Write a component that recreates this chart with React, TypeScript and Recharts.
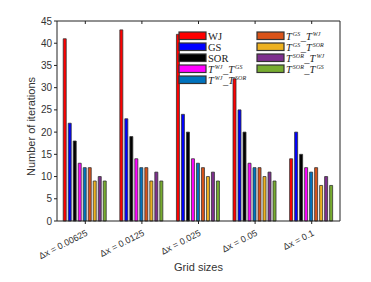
import React from "react";
import { BarChart, Bar, XAxis, YAxis } from "recharts";

const categories = ["Δx = 0.00625", "Δx = 0.0125", "Δx = 0.025", "Δx = 0.05", "Δx = 0.1"];
const wj = [41, 43, 42, 32, 14];
const gs = [22, 23, 24, 25, 20];
const sor = [18, 19, 20, 20, 15];
const tWjGs = [13, 14, 14, 13, 12];
const tWjSor = [12, 12, 13, 12, 11];
const tGsWj = [12, 12, 12, 12, 12];
const tGsSor = [9, 9, 10, 10, 8];
const tSorWj = [10, 11, 11, 11, 10];
const tSorGs = [9, 9, 9, 9, 8];
const yTicks = [0, 5, 10, 15, 20, 25, 30, 35, 40, 45];

// key, values, colour, legend name (single word or T superscript pair)
const series: { key: string; values: number[]; color: string; label: string[] }[] = [
  { key: "wj", values: wj, color: "#ff0000", label: ["WJ"] },
  { key: "gs", values: gs, color: "#0000ff", label: ["GS"] },
  { key: "sor", values: sor, color: "#000000", label: ["SOR"] },
  { key: "tWjGs", values: tWjGs, color: "#ff00ff", label: ["WJ", "GS"] },
  { key: "tWjSor", values: tWjSor, color: "#0072bd", label: ["WJ", "SOR"] },
  { key: "tGsWj", values: tGsWj, color: "#d95319", label: ["GS", "WJ"] },
  { key: "tGsSor", values: tGsSor, color: "#edb120", label: ["GS", "SOR"] },
  { key: "tSorWj", values: tSorWj, color: "#7e2f8e", label: ["SOR", "WJ"] },
  { key: "tSorGs", values: tSorGs, color: "#77ac30", label: ["SOR", "GS"] },
];

const data = categories.map((name, i) => {
  const row: Record<string, string | number> = { name };
  series.forEach((s) => (row[s.key] = s.values[i]));
  return row;
});

const sans = "Liberation Sans, Arial, sans-serif";

const AngledTick = (props: any) => {
  const { x, y, payload } = props;
  return (
    <text
      x={x + 3}
      y={y + 9}
      textAnchor="end"
      transform={`rotate(-27 ${x + 3} ${y + 9})`}
      fontSize={9}
      fill="#333"
      fontFamily={sans}
    >
      {payload.value}
    </text>
  );
};

function LegendText({ x, y, label }: { x: number; y: number; label: string[] }) {
  if (label.length === 1) {
    return (
      <text x={x} y={y} fontSize={10.5} fontFamily="Liberation Serif, serif" fill="#222">
        {label[0]}
      </text>
    );
  }
  return (
    <text x={x} y={y} fontSize={10.5} fontFamily="Liberation Serif, serif" fill="#222">
      <tspan fontStyle="italic">T</tspan>
      <tspan fontSize={6} fontStyle="italic" dx={1} dy={-4}>{label[0]}</tspan>
      <tspan dx={0.5} dy={4}>_</tspan>
      <tspan fontStyle="italic">T</tspan>
      <tspan fontSize={6} fontStyle="italic" dx={1} dy={-4}>{label[1]}</tspan>
    </text>
  );
}

export default function App() {
  return (
    <div style={{ position: "absolute", left: 0, top: 0, width: 371, height: 282, background: "#fff" }}>
      <BarChart
        width={371}
        height={282}
        data={data}
        margin={{ top: 21, right: 30, left: 0, bottom: 0 }}
        barCategoryGap="11%"
        barGap={2}
      >
        <XAxis
          dataKey="name"
          height={61}
          interval={0}
          tick={<AngledTick />}
          tickSize={3}
          stroke="#222"
          label={{ value: "Grid sizes", position: "insideBottom", offset: 11, fontSize: 11, fill: "#333", fontFamily: sans }}
        />
        <XAxis xAxisId="top" dataKey="name" orientation="top" height={1} mirror interval={0} tickFormatter={() => ""} tickSize={3} stroke="#222" />
        <YAxis
          domain={[0, 45]}
          ticks={yTicks}
          width={57}
          tickSize={3}
          stroke="#222"
          tick={{ fontSize: 10, fill: "#333", fontFamily: sans }}
          label={{ value: "Number of iterations", angle: -90, position: "insideLeft", offset: 31, dy: 55, fontSize: 11, fill: "#333", fontFamily: sans }}
        />
        <YAxis yAxisId="right" orientation="right" domain={[0, 45]} ticks={yTicks} width={1} tickFormatter={() => ""} tickSize={3} stroke="#222" />
        {series.map((s) => (
          <Bar key={s.key} dataKey={s.key} fill={s.color} stroke="#333" strokeWidth={0.8} isAnimationActive={false} />
        ))}
      </BarChart>
      <svg width={371} height={282} style={{ position: "absolute", left: 0, top: 0, pointerEvents: "none" }}>
        {series.map((s, i) => {
          const col = i < 5 ? 0 : 1;
          const row = i < 5 ? i : i - 5;
          const x = col === 0 ? 179 : 257;
          const y = 32 + row * 11;
          return (
            <g key={s.key}>
              <rect x={x} y={y} width={27} height={7.5} fill={s.color} stroke="#333" strokeWidth={1.2} />
              <LegendText x={x + 29} y={y + 7.5} label={s.label} />
            </g>
          );
        })}
      </svg>
    </div>
  );
}
